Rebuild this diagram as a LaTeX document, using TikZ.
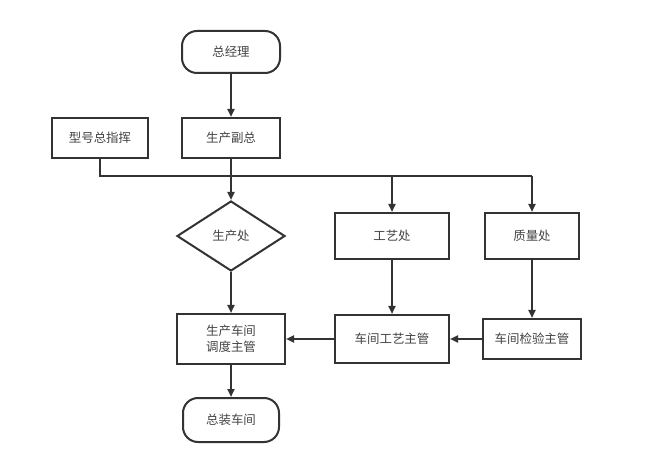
\documentclass[tikz,border=0pt]{standalone}
\usepackage{fontspec}
\setmainfont{Noto Sans CJK SC}
\usetikzlibrary{arrows.meta,shapes.geometric}
\definecolor{ln}{HTML}{333333}
\definecolor{tx}{HTML}{444444}
\tikzset{
  base/.style={draw=ln,line width=2bp,text=tx,font=\fontsize{12.5}{15}\selectfont,inner sep=0pt,align=center},
  boxn/.style={base,rectangle,minimum width=#1},
  term/.style={base,rectangle,rounded corners=15bp,minimum width=98bp,minimum height=42bp},
  dia/.style={base,diamond,aspect=1.55,minimum width=108bp,minimum height=70bp},
  conn/.style={draw=ln,line width=2bp,-{Triangle[length=8bp,width=7bp]}},
  plain/.style={draw=ln,line width=2bp}
}
\begin{document}
\begin{tikzpicture}[x=1bp,y=-1bp]
\useasboundingbox[fill=white] (0,0) rectangle (653,471);
\node[term] (zjl) at (231,52) {总经理};
\node[boxn=98bp,minimum height=40bp] (scfz) at (231,138) {生产副总};
\node[boxn=96bp,minimum height=40bp] (xhzh) at (100,138) {型号总指挥};
\node[dia] (scc) at (231,236) {生产处};
\node[boxn=114bp,minimum height=46bp] (gyc) at (392,236) {工艺处};
\node[boxn=94bp,minimum height=46bp] (zlc) at (532,236) {质量处};
\node[boxn=108bp,minimum height=50bp] (ddzg) at (231,339) {生产车间\\[1pt]调度主管};
\node[boxn=114bp,minimum height=48bp] (gyzg) at (392,339) {车间工艺主管};
\node[boxn=98bp,minimum height=40bp] (jyzg) at (532,339) {车间检验主管};
\node[term,minimum width=96bp,minimum height=44bp] (zzcj) at (231,420) {总装车间};
\coordinate (j0) at (100,176);
\coordinate (j1) at (392,176);
\coordinate (j2) at (532,176);
\draw[conn] (zjl) -- (scfz);
\draw[conn] (scfz) -- (scc);
\draw[plain] (xhzh.south -| j0) -- (j0) -- (j2);
\draw[conn] (j1) -- (gyc.north -| j1);
\draw[conn] (j2) -- (zlc.north -| j2);
\draw[conn] (scc) -- (ddzg);
\draw[conn] (gyc.south -| j1) -- (gyzg.north -| j1);
\draw[conn] (zlc.south -| j2) -- (jyzg.north -| j2);
\draw[conn] (jyzg) -- (gyzg);
\draw[conn] (gyzg) -- (ddzg);
\draw[conn] (ddzg) -- (zzcj);
\end{tikzpicture}
\end{document}
